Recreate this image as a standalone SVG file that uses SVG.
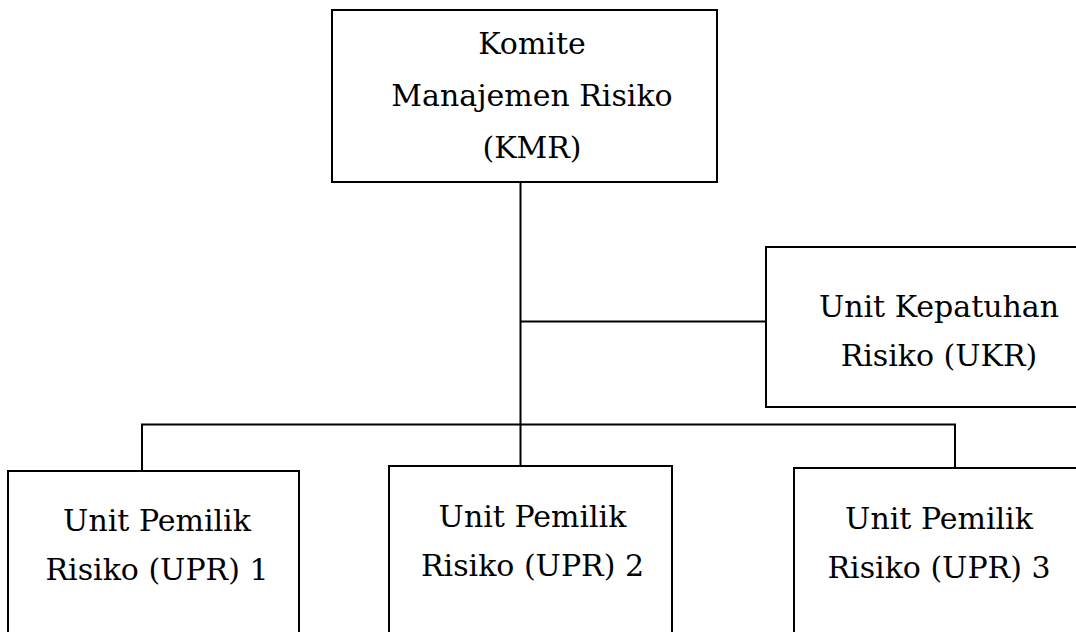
<svg xmlns="http://www.w3.org/2000/svg" width="1076" height="632" viewBox="0 0 1076 632">
<style>
.box{fill:#fff;stroke:#000;stroke-width:2}
.line{fill:none;stroke:#000;stroke-width:2}
.t{font-family:"DejaVu Serif","Liberation Serif",serif;font-size:30px;fill:#000;text-anchor:middle}
</style>
<rect width="1076" height="632" fill="#fff"/>
<g id="connectors">
<path class="line" d="M520.5,182 V467"/>
<path class="line" d="M520.5,321.5 H766"/>
<path class="line" d="M142,471 V424.5 H955 V468"/>
</g>
<g id="kmr">
<rect class="box" x="332" y="10" width="385" height="172"/>
<text class="t" x="532" y="54">Komite</text>
<text class="t" x="532" y="106">Manajemen Risiko</text>
<text class="t" x="532" y="158">(KMR)</text>
</g>
<g id="ukr">
<rect class="box" x="766" y="247" width="320" height="160"/>
<text class="t" x="939" y="317">Unit Kepatuhan</text>
<text class="t" x="939" y="366">Risiko (UKR)</text>
</g>
<g id="upr1">
<rect class="box" x="8" y="471" width="291" height="180"/>
<text class="t" x="157" y="531">Unit Pemilik</text>
<text class="t" x="157" y="580">Risiko (UPR) 1</text>
</g>
<g id="upr2">
<rect class="box" x="389" y="466" width="283" height="180"/>
<text class="t" x="532.5" y="527">Unit Pemilik</text>
<text class="t" x="532.5" y="576">Risiko (UPR) 2</text>
</g>
<g id="upr3">
<rect class="box" x="794" y="468" width="300" height="180"/>
<text class="t" x="939" y="529">Unit Pemilik</text>
<text class="t" x="939" y="578">Risiko (UPR) 3</text>
</g>
</svg>
